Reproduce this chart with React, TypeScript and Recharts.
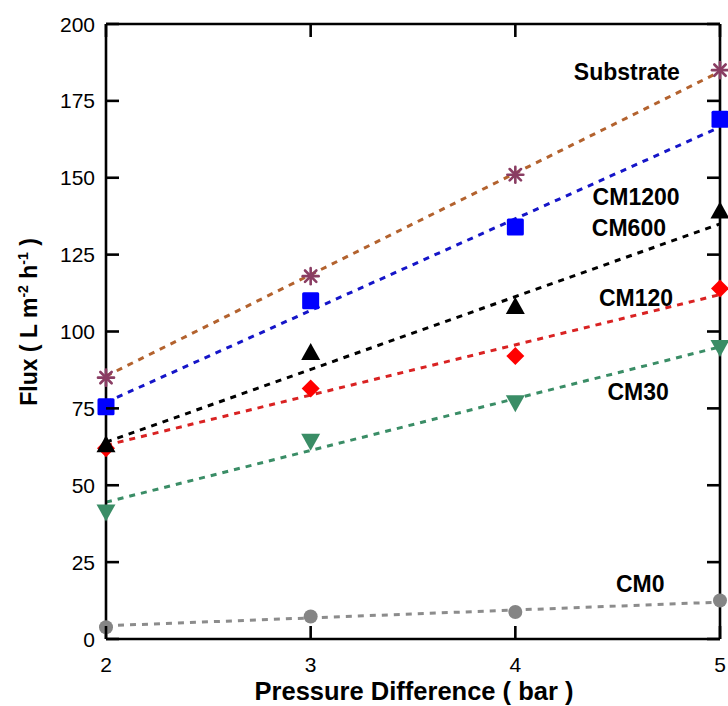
import React from 'react';
import { ComposedChart, Line, Scatter, XAxis, YAxis, ReferenceDot } from 'recharts';

// measured points
const pressure = [2, 3, 4, 5];
const substrate = [85, 118, 151, 185];
const cm1200 = [75.5, 110, 134, 169];
const cm600 = [63, 93, 108, 139];
const cm120 = [62, 81.5, 92, 114];
const cm30 = [41.5, 64.5, 77, 95];
const cm0 = [3.8, 7.3, 8.8, 12.5];

// dashed linear fit lines, read at both ends
const fitX = [2, 5];
const substrateFit = [85.5, 184.5];
const cm1200Fit = [77, 166.5];
const cm600Fit = [64, 135];
const cm120Fit = [63, 112];
const cm30Fit = [44.5, 95];
const cm0Fit = [4.3, 12];

const yTicks = [0, 25, 50, 75, 100, 125, 150, 175, 200];
const xTicks = [2, 3, 4, 5];

const toPts = (xs: number[], ys: number[]) => xs.map((x, i) => ({ x, y: ys[i] }));

const FONT = '"Liberation Sans", Arial, sans-serif';
// plot frame (chart is 728x706, margin top 24 / right 8, y axis 106 wide, x axis 67 high)
const FRAME = { left: 106, right: 720, top: 24, bottom: 639 };
const TICK_LEN = 13;

const Star = (p: any) => {
  const { cx, cy } = p;
  const r = 8;
  const d = r * 0.707;
  return (
    <g stroke="#8a3d63" strokeWidth={2.6} strokeLinecap="round">
      <line x1={cx - r} y1={cy} x2={cx + r} y2={cy} />
      <line x1={cx} y1={cy - r} x2={cx} y2={cy + r} />
      <line x1={cx - d} y1={cy - d} x2={cx + d} y2={cy + d} />
      <line x1={cx - d} y1={cy + d} x2={cx + d} y2={cy - d} />
    </g>
  );
};

const Square = (p: any) => (
  <rect x={p.cx - 8.5} y={p.cy - 8.5} width={17} height={17} rx={1.5} fill="#0000ff" />
);

const TriUp = (p: any) => (
  <polygon points={`${p.cx},${p.cy - 10} ${p.cx + 9.5},${p.cy + 7} ${p.cx - 9.5},${p.cy + 7}`} fill="#000" />
);

const Diamond = (p: any) => (
  <polygon points={`${p.cx},${p.cy - 9} ${p.cx + 9},${p.cy} ${p.cx},${p.cy + 9} ${p.cx - 9},${p.cy}`} fill="#ff0000" />
);

const TriDown = (p: any) => (
  <polygon points={`${p.cx - 9.5},${p.cy - 7} ${p.cx + 9.5},${p.cy - 7} ${p.cx},${p.cy + 10}`} fill="#3a8d66" />
);

const Dot = (p: any) => <circle cx={p.cx} cy={p.cy} r={7} fill="#858585" />;

// y tick: label outside, inward marks on left and right frame
const YTick = (p: any) => (
  <g>
    <line x1={FRAME.left} x2={FRAME.left + TICK_LEN} y1={p.y} y2={p.y} stroke="#000" strokeWidth={2.6} />
    <line x1={FRAME.right - TICK_LEN} x2={FRAME.right} y1={p.y} y2={p.y} stroke="#000" strokeWidth={2.6} />
    <text x={p.x} y={p.y} dy="0.36em" textAnchor="end" fontSize={21} fontFamily={FONT} fill="#000">
      {p.payload.value}
    </text>
  </g>
);

// x tick: label below, inward marks on bottom and top frame
const XTick = (p: any) => (
  <g>
    <line x1={p.x} x2={p.x} y1={FRAME.bottom} y2={FRAME.bottom - TICK_LEN} stroke="#000" strokeWidth={2.6} />
    <line x1={p.x} x2={p.x} y1={FRAME.top} y2={FRAME.top + TICK_LEN} stroke="#000" strokeWidth={2.6} />
    <text x={p.x} y={FRAME.bottom + 33} textAnchor="middle" fontSize={21} fontFamily={FONT} fill="#000">
      {p.payload.value}
    </text>
  </g>
);

const seriesLabel = (text: string) => ({
  value: text,
  position: 'center' as const,
  fill: '#000',
  fontSize: 23,
  fontWeight: 'bold',
  fontFamily: FONT,
});

const YTitle = () => (
  <text
    transform="translate(37, 322) rotate(-90)"
    textAnchor="middle"
    fontSize={23}
    fontWeight="bold"
    fontFamily={FONT}
    fill="#000"
  >
    <tspan>Flux ( L m</tspan>
    <tspan dy={-9} fontSize={14}>-2</tspan>
    <tspan dy={9}> h</tspan>
    <tspan dy={-9} fontSize={14}>-1</tspan>
    <tspan dy={9}> )</tspan>
  </text>
);

const XTitle = () => (
  <text x={414} y={700} textAnchor="middle" fontSize={25.5} fontWeight="bold" fontFamily={FONT} fill="#000">
    Pressure Difference ( bar )
  </text>
);

export default function App() {
  const axisLine = { stroke: '#000', strokeWidth: 2.6 };
  const fitStyle = { strokeWidth: 3, strokeDasharray: '6 6', dot: false, activeDot: false, type: 'linear' as const };

  return (
    <div style={{ position: 'absolute', left: 0, top: 0, width: 728, height: 706, background: '#fff' }}>
      <ComposedChart width={728} height={706} margin={{ top: 24, right: 8, left: 0, bottom: 0 }}>
        <XAxis
          xAxisId="b"
          dataKey="x"
          type="number"
          domain={[2, 5]}
          ticks={xTicks}
          height={67}
          axisLine={axisLine}
          tickLine={false}
          tickSize={0}
          tickMargin={20}
          tick={XTick}
          label={{ content: () => <XTitle /> }}
        />
        <YAxis
          yAxisId="l"
          dataKey="y"
          type="number"
          domain={[0, 200]}
          ticks={yTicks}
          width={106}
          axisLine={axisLine}
          tickLine={false}
          tickSize={0}
          tickMargin={11}
          tick={YTick}
          label={{ content: () => <YTitle /> }}
        />
        {/* mirrored axes only close the frame */}
        <XAxis
          xAxisId="t"
          orientation="top"
          mirror
          type="number"
          domain={[2, 5]}
          height={20}
          axisLine={axisLine}
          tickLine={false}
          tick={false}
        />
        <YAxis
          yAxisId="r"
          orientation="right"
          mirror
          type="number"
          domain={[0, 200]}
          width={20}
          axisLine={axisLine}
          tickLine={false}
          tick={false}
        />

        <Line data={toPts(fitX, cm0Fit)} dataKey="y" xAxisId="b" yAxisId="l" stroke="#8c8c8c" {...fitStyle} isAnimationActive={false} />
        <Line data={toPts(fitX, cm30Fit)} dataKey="y" xAxisId="b" yAxisId="l" stroke="#3a8d66" {...fitStyle} isAnimationActive={false} />
        <Line data={toPts(fitX, cm120Fit)} dataKey="y" xAxisId="b" yAxisId="l" stroke="#d92222" {...fitStyle} isAnimationActive={false} />
        <Line data={toPts(fitX, cm600Fit)} dataKey="y" xAxisId="b" yAxisId="l" stroke="#000" {...fitStyle} isAnimationActive={false} />
        <Line data={toPts(fitX, cm1200Fit)} dataKey="y" xAxisId="b" yAxisId="l" stroke="#1515c8" {...fitStyle} isAnimationActive={false} />
        <Line data={toPts(fitX, substrateFit)} dataKey="y" xAxisId="b" yAxisId="l" stroke="#b3622e" {...fitStyle} isAnimationActive={false} />

        <Scatter data={toPts(pressure, cm0)} dataKey="y" xAxisId="b" yAxisId="l" shape={Dot} isAnimationActive={false} />
        <Scatter data={toPts(pressure, cm30)} dataKey="y" xAxisId="b" yAxisId="l" shape={TriDown} isAnimationActive={false} />
        <Scatter data={toPts(pressure, cm120)} dataKey="y" xAxisId="b" yAxisId="l" shape={Diamond} isAnimationActive={false} />
        <Scatter data={toPts(pressure, cm600)} dataKey="y" xAxisId="b" yAxisId="l" shape={TriUp} isAnimationActive={false} />
        <Scatter data={toPts(pressure, cm1200)} dataKey="y" xAxisId="b" yAxisId="l" shape={Square} isAnimationActive={false} />
        <Scatter data={toPts(pressure, substrate)} dataKey="y" xAxisId="b" yAxisId="l" shape={Star} isAnimationActive={false} />

        <ReferenceDot x={4.545} y={184.4} r={0} xAxisId="b" yAxisId="l" ifOverflow="visible" label={seriesLabel('Substrate')} />
        <ReferenceDot x={4.59} y={143.7} r={0} xAxisId="b" yAxisId="l" ifOverflow="visible" label={seriesLabel('CM1200')} />
        <ReferenceDot x={4.555} y={133.7} r={0} xAxisId="b" yAxisId="l" ifOverflow="visible" label={seriesLabel('CM600')} />
        <ReferenceDot x={4.59} y={110.9} r={0} xAxisId="b" yAxisId="l" ifOverflow="visible" label={seriesLabel('CM120')} />
        <ReferenceDot x={4.6} y={80.3} r={0} xAxisId="b" yAxisId="l" ifOverflow="visible" label={seriesLabel('CM30')} />
        <ReferenceDot x={4.61} y={17.9} r={0} xAxisId="b" yAxisId="l" ifOverflow="visible" label={seriesLabel('CM0')} />
      </ComposedChart>
    </div>
  );
}
